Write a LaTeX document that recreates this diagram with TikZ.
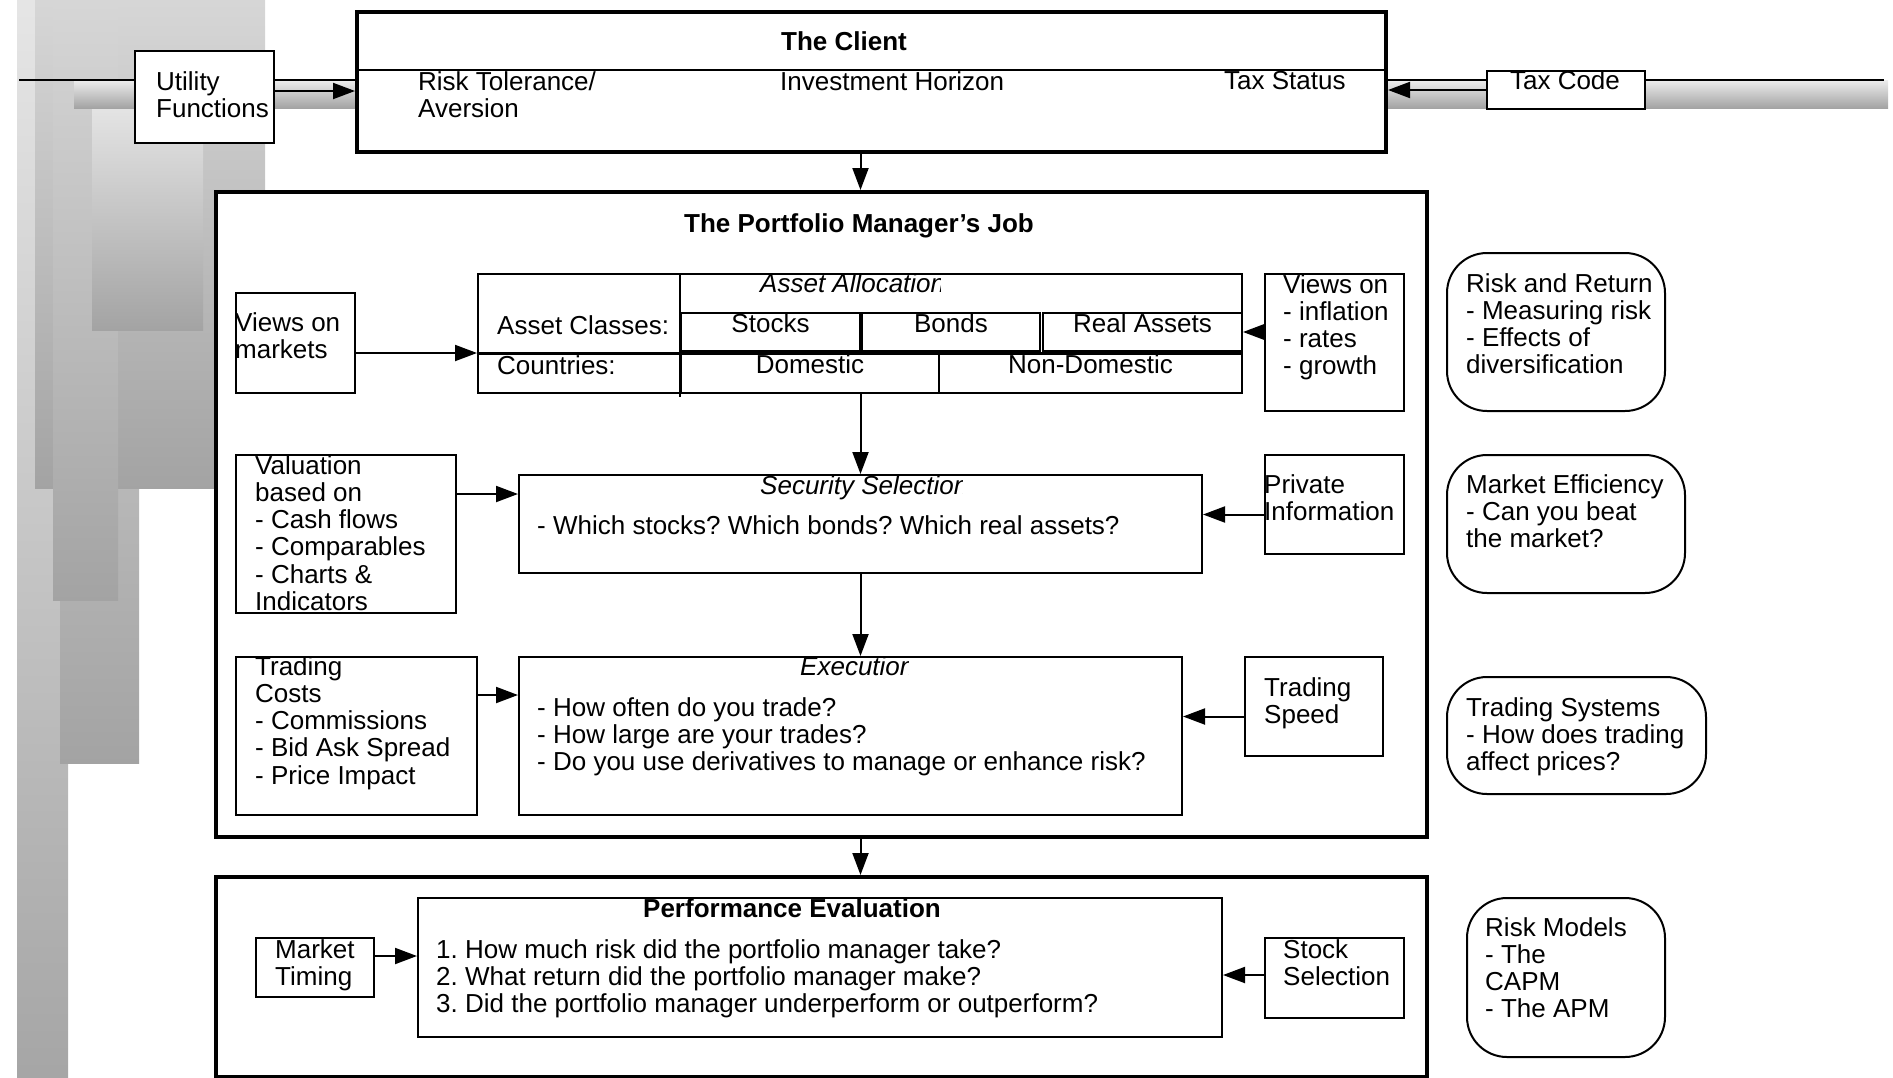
\documentclass[tikz,border=0pt]{standalone}
\usepackage{fontspec}
\setmainfont{Liberation Sans}
\usetikzlibrary{arrows.meta,calc,positioning}
\definecolor{bartop}{gray}{0.90}
\definecolor{barmid}{gray}{0.84}
\definecolor{barlow}{gray}{0.72}
\definecolor{bardark}{gray}{0.64}
\definecolor{bandtop}{gray}{0.93}
\definecolor{bandbot}{gray}{0.64}
\newcommand{\bodyfont}{\fontsize{26}{27.3}\selectfont}
\frenchspacing

\tikzset{
  every node/.style={font=\bodyfont},
  box/.style={draw, line width=2pt, fill=white, inner sep=0pt, anchor=north west},
  bigbox/.style={box, line width=4pt},
  roundbox/.style={box, rounded corners=40pt},
  cell/.style={box, text height=9pt, text depth=9pt},
  txt/.style={anchor=north west, inner sep=0pt, align=left, yshift=1pt},
  ital/.style={txt, font=\bodyfont\itshape},
  title/.style={anchor=north, inner sep=0pt, yshift=1pt, font=\bodyfont\bfseries},
  arr/.style={line width=2pt, -{Triangle[length=22pt,width=16pt]}},
}

\begin{document}
\begin{tikzpicture}[x=1pt, y=-1pt]
\useasboundingbox (0,0) rectangle (1893,1077);

% grey bars on the left
\shade[top color=bartop, bottom color=gray!70] (17,0) rectangle (68,1077);
\shade[top color=barlow, bottom color=bardark] (60,488) rectangle (139,763);
\shade[top color=barmid, bottom color=bardark] (35,0) rectangle (265,488);
\shade[top color=barmid, bottom color=bardark] (53,0) rectangle (118,600);
\shade[top color=bartop, bottom color=bardark] (92,102) rectangle (203,330);

% band behind the client
\shade[top color=bandtop, bottom color=bandbot] (74,80) rectangle (1888,108);
\coordinate (bandW) at (19,80);
\coordinate (bandE) at (1884,80);
\draw[line width=2pt] (bandW) -- (bandE);

% the client
\node[bigbox, minimum width=1029pt, minimum height=140pt] (client) at (355,10) {};
\draw[line width=1.5pt] ([yshift=-60pt]client.north west) -- ([yshift=-60pt]client.north east);
\node[title] (clientT) at (844,32) {The Client};
\node[txt] (riskT) at (418,72) {Risk Tolerance/\\Aversion};
\node[txt] (horizonT) at (780,72) {Investment Horizon};
\node[txt] (taxT) at (1224,72) {Tax Status};

\node[box, minimum width=139pt, minimum height=92pt] (util) at (134,50) {};
\node[txt] (utilT) at (156,72) {Utility\\Functions};
\node[box, minimum width=158pt, minimum height=38pt] (taxcode) at (1486,70) {};
\node[anchor=north, inner sep=0pt] (taxcodeT) at (1565,70) {Tax Code};

% portfolio manager
\node[bigbox, minimum width=1211pt, minimum height=645pt] (pm) at (214,190) {};
\node[title] (pmT) at (859,214) {The Portfolio Manager’s Job};

% asset allocation table
\node[box, minimum width=764pt, minimum height=119pt] (aa) at (477,273) {};
\node[cell, minimum width=179pt, minimum height=38pt] (stocks) at (680,312) {Stocks};
\node[cell, minimum width=178pt, minimum height=38pt] (bonds) at (861,312) {Bonds};
\node[cell, minimum width=199pt, minimum height=38pt] (realas) at (1042,312) {Real Assets};
\node[cell, minimum width=258pt, minimum height=39pt] (dom) at (680,353) {Domestic};
\node[cell, minimum width=303pt, minimum height=39pt] (nondom) at (938,353) {Non-Domestic};
\draw[line width=2pt] (stocks.north west |- aa.north) -- ([yshift=-3pt]dom.south west);
\draw[line width=3pt] (aa.west |- dom.north) -- (aa.east |- dom.north);
\begin{scope}
  \clip (700,262) rectangle (940,312);
  \node[ital] (aaT) at (760,274) {Asset Allocation};
\end{scope}
\node[txt] (classesT) at (497,316) {Asset Classes:};
\node[txt] (countriesT) at (497,356) {Countries:};

\node[box, minimum width=119pt, minimum height=100pt] (vm) at (235,292) {};
\node[txt] (vmT) at (235,313) {Views on\\markets};
\node[box, minimum width=139pt, minimum height=137pt] (vi) at (1264,273) {};
\node[txt] (viT) at (1283,275) {Views on\\- inflation\\- rates\\- growth};

% security selection
\node[box, minimum width=220pt, minimum height=158pt] (val) at (235,454) {};
\node[txt] (valT) at (255,456) {Valuation\\based on\\- Cash flows\\- Comparables\\- Charts \&\\Indicators};
\node[box, minimum width=683pt, minimum height=98pt] (sec) at (518,474) {};
\begin{scope}
  \clip (700,464) rectangle (962,520);
  \node[ital] (secT) at (760,476) {Security Selection};
\end{scope}
\node[txt] (secQ) at (537,516) {- Which stocks? Which bonds? Which real assets?};
\node[box, minimum width=139pt, minimum height=99pt] (priv) at (1264,454) {};
\node[txt] (privT) at (1264,475) {Private\\Information};

% execution
\node[box, minimum width=241pt, minimum height=158pt] (tc) at (235,656) {};
\node[txt] (tcT) at (255,657) {Trading\\Costs\\- Commissions\\- Bid Ask Spread\\- Price Impact};
\node[box, minimum width=663pt, minimum height=158pt] (exe) at (518,656) {};
\begin{scope}
  \clip (700,646) rectangle (908,700);
  \node[ital] (exeT) at (800,657) {Execution};
\end{scope}
\node[txt] (exeQ) at (537,698) {- How often do you trade?\\- How large are your trades?\\- Do you use derivatives to manage or enhance risk?};
\node[box, minimum width=138pt, minimum height=99pt] (ts) at (1244,656) {};
\node[txt] (tsT) at (1264,678) {Trading\\Speed};

% topics on the right
\node[roundbox, minimum width=218pt, minimum height=158pt] (rr) at (1446,252) {};
\node[txt] (rrT) at (1466,274) {Risk and Return\\- Measuring risk\\- Effects of\\diversification};
\node[roundbox, minimum width=238pt, minimum height=138pt] (me) at (1446,454) {};
\node[txt] (meT) at (1466,475) {Market Efficiency\\- Can you beat\\the market?};
\node[roundbox, minimum width=259pt, minimum height=117pt] (tsys) at (1446,676) {};
\node[txt] (tsysT) at (1466,698) {Trading Systems\\- How does trading\\affect prices?};
\node[roundbox, minimum width=198pt, minimum height=159pt] (rm) at (1466,897) {};
\node[txt] (rmT) at (1485,918) {Risk Models\\- The\\CAPM\\- The APM};

% performance evaluation
\node[bigbox, minimum width=1211pt, minimum height=200pt] (pe) at (214,875) {};
\node[box, minimum width=804pt, minimum height=139pt] (pein) at (417,897) {};
\node[title] (peT) at (792,899) {Performance Evaluation};
\node[txt] (peQ) at (436,940) {1. How much risk did the portfolio manager take?\\2. What return did the portfolio manager make?\\3. Did the portfolio manager underperform or outperform?};
\node[box, minimum width=118pt, minimum height=59pt] (mt) at (255,937) {};
\node[txt] (mtT) at (275,940) {Market\\Timing};
\node[box, minimum width=139pt, minimum height=80pt] (ss) at (1264,937) {};
\node[txt] (ssT) at (1283,940) {Stock\\Selection};

% connectors
\draw[arr] ([yshift=6pt]util.east) -- ([yshift=6pt]util.east -| client.west);
\draw[arr] (taxcode.west) -- (taxcode.west -| client.east);
\draw[arr] (client.south -| sec.north) -- (pm.north -| sec.north);
\draw[arr] (vm.east |- dom.north) -- (aa.west |- dom.north);
\draw[arr] (vi.west |- realas.east) -- (realas.east);
\draw[arr] (aa.south -| sec.north) -- (sec.north);
\draw[arr] ([yshift=-40pt]val.north east) -- ([yshift=-40pt]val.north east -| sec.west);
\draw[arr] ([yshift=-10pt]priv.west) -- ([yshift=-10pt]priv.west -| sec.east);
\draw[arr] (sec.south) -- (sec.south |- exe.north);
\draw[arr] ([yshift=-39pt]tc.north east) -- ([yshift=-39pt]tc.north east -| exe.west);
\draw[arr] ([yshift=-10pt]ts.west) -- ([yshift=-10pt]ts.west -| exe.east);
\draw[arr] (pm.south -| sec.south) -- (pe.north -| sec.south);
\draw[arr] ([yshift=-19pt]mt.north east) -- ([yshift=-19pt]mt.north east -| pein.west);
\draw[arr] ([yshift=-38pt]ss.north west) -- ([yshift=-38pt]ss.north west -| pein.east);

\end{tikzpicture}
\end{document}
